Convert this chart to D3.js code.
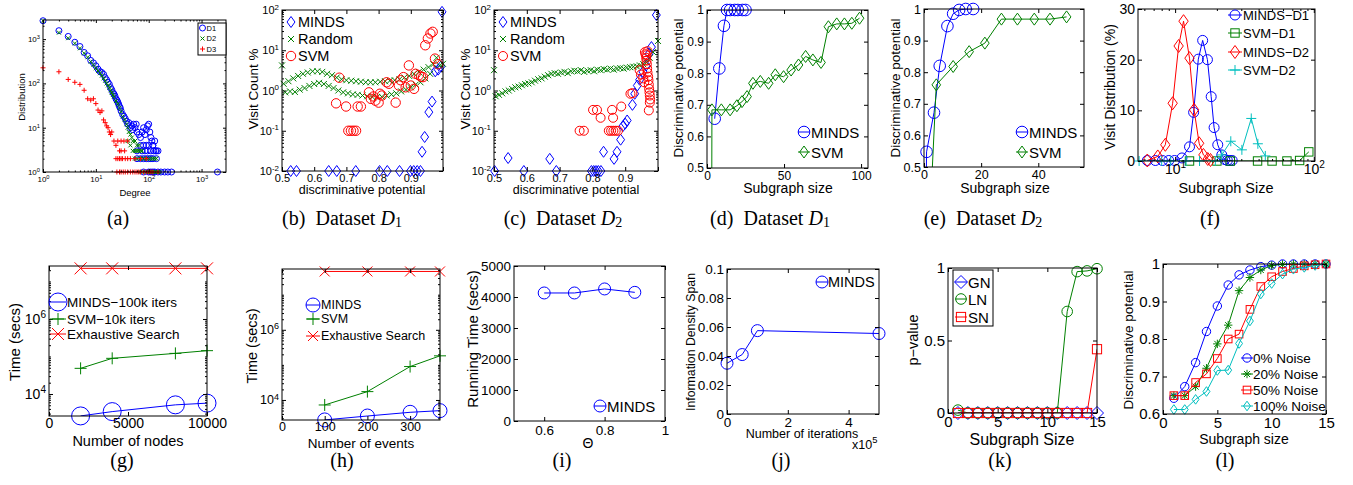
<!DOCTYPE html>
<html>
<head>
<meta charset="utf-8">
<script src="https://cdn.jsdelivr.net/npm/d3@7"></script>
<style>
  body { margin: 0; background: #fff; }
</style>
</head>
<body>
<svg id="fig" width="1353" height="485"></svg>
<script>
// ---- data ----
// (a) degree distribution, [degree, count]
var aD1 = [[1,2600],[2,1550],[3,1150],[4,850],[5,680],[6,500],[7,420],[8,330],[9,290],[10,250],
  [11,210],[12,185],[13,175],[14,160],[15,135],[16,120],[17,105],[18,95],[19,80],[20,72],
  [21,62],[22,58],[23,52],[24,45],[25,42],[26,38],[27,34],[28,30],[29,28],[30,24],
  [32,20],[34,18],[36,16],[38,14],[40,12],[42,13],[45,10],[48,11],[50,9],[52,12],
  [55,10],[58,12],[60,8],[65,7],[70,6],[75,8],[80,10],[85,7],[90,9],[95,11],
  [100,12],[105,8],[110,6],[115,5],[120,4],[130,5],[140,3],[150,3],
  [70,4],[80,4],[90,4],[100,4],[120,4],
  [60,3],[75,3],[85,3],[95,3],[110,3],[125,3],[135,3],
  [60,2],[70,2],[80,2],[90,2],[100,2],[110,2],[120,2],[140,2],
  [80,1],[100,1],[110,1],[120,1],[130,1],[150,1],[170,1],[200,1],[230,1],[270,1],[2000,1]];
var aD2 = [[1,2600],[2,1400],[3,1050],[4,800],[5,620],[6,480],[7,390],[8,310],[9,260],[10,220],
  [11,190],[12,170],[13,150],[14,130],[15,115],[16,100],[17,90],[18,80],[19,70],[20,62],
  [21,55],[22,50],[24,40],[26,34],[28,28],[30,23],[32,18],[35,15],[38,12],[40,10],
  [42,8],[45,7],[48,6],[50,5],[55,5],[60,4],[65,4],[70,3],[40,5],[45,4],[50,3],[55,3],
  [60,3],[65,3],[75,3],[55,2],[60,2],[70,2],[80,2],[90,2],[100,2],[110,2],[120,2],[130,2],[140,2],
  [70,1],[90,1],[100,1],[110,1],[120,1],[130,1],[140,1],[150,1],[160,1]];
var aD3 = [[1,225],[2,183],[3,123],[4,106],[5,95],[6,70],[7,45],[8,42],[9,45],[10,35],
  [11,25],[12,22],[13,24],[14,15],[15,13],[16,11],[17,10],[18,8],[19,7],[20,8],
  [22,5],[24,4],[26,5],[28,3],[30,5],[34,5],[40,5],[30,3],[35,3],
  [24,2],[26,2],[28,2],[30,2],[32,2],[36,2],[40,2],[45,2],[55,2],[70,2],[90,2],
  [25,1],[28,1],[30,1],[33,1],[36,1],[40,1],[45,1],[50,1],[55,1],[60,1],[65,1],[70,1],
  [80,1],[90,1],[100,1],[110,1],[120,1],[150,1]];

// (b) dataset D1 visit counts, [discriminative potential, visit %]
var bMinds = [[0.527,0.01],[0.545,0.01],[0.645,0.01],[0.67,0.01],[0.729,0.01],[0.803,0.01],[0.827,0.01],
  [0.865,0.01],[0.899,0.01],[0.909,0.01],[0.92,0.01],[0.93,0.01],[0.935,0.03],[0.943,0.07],
  [0.956,0.29],[0.966,0.53],[0.976,3.0],[0.985,3.3],[0.994,4.0],[0.997,90]];
var bRandom = [[0.5,4.2],
  [0.505,1.47],[0.52,1.7],[0.535,2.0],[0.55,2.3],[0.565,2.6],[0.58,2.8],[0.595,3.0],[0.61,3.0],
  [0.625,2.9],[0.64,2.6],[0.655,2.4],[0.67,2.1],[0.685,1.9],[0.7,1.8],[0.715,1.75],[0.73,1.7],
  [0.745,1.65],[0.76,1.6],[0.775,1.6],[0.79,1.6],[0.805,1.65],[0.82,1.7],[0.835,1.75],[0.85,1.8],
  [0.865,1.9],[0.88,2.1],[0.895,2.3],[0.91,2.6],[0.925,2.9],[0.94,3.3],[0.955,3.8],[0.97,4.5],
  [0.98,6.5],[0.99,4.2],[1.0,4.6],
  [0.51,0.9],[0.525,0.95],[0.54,0.92],[0.555,1.05],[0.57,1.15],[0.585,1.3],[0.6,1.45],[0.615,1.55],
  [0.63,1.45],[0.645,1.3],[0.66,1.15],[0.675,1.0],[0.69,0.9],[0.705,0.85],[0.72,0.8],[0.735,0.78],
  [0.75,0.75],[0.765,0.72],[0.78,0.7],[0.795,0.68],[0.81,0.7],[0.825,0.75],[0.84,0.8],[0.855,0.85],
  [0.87,0.95],[0.885,1.05],[0.9,1.2],[0.915,1.4],[0.93,1.6],[0.945,2.0],[0.96,2.6]];
var bSvm = [[0.678,2.08],[0.668,0.48],[0.699,0.4],[0.735,0.4],[0.745,0.4],[0.706,0.1],[0.714,0.1],
  [0.722,0.1],[0.73,0.1],[0.77,0.9],[0.776,0.62],[0.784,0.71],[0.79,0.56],[0.8,0.5],[0.804,0.83],
  [0.81,0.75],[0.825,1.6],[0.832,1.47],[0.853,0.5],[0.863,1.33],[0.868,1.8],[0.877,2.15],[0.884,1.2],
  [0.894,4.2],[0.9,1.33],[0.91,1.1],[0.915,2.6],[0.925,2.4],[0.932,2.2],[0.938,2.15],[0.945,13.3],
  [0.953,19.6],[0.961,26],[0.968,28.7],[0.975,6.2],[0.985,4.5]];

// (c) dataset D2 visit counts
var cMinds = [[0.502,0.01],[0.543,0.021],[0.591,0.01],[0.67,0.02],[0.69,0.01],[0.797,0.01],[0.804,0.01],
  [0.811,0.01],[0.818,0.01],[0.826,0.01],[0.834,0.03],[0.866,0.02],[0.875,0.03],[0.886,0.06],
  [0.893,0.13],[0.9,0.15],[0.906,0.18],[0.922,0.44],[0.929,0.83],[0.937,1.33],[0.944,1.85],
  [0.954,2.9],[0.964,4.2],[0.973,8.2],[0.98,12],[0.995,75]];
var cRandom = [[0.5,3.2],[0.505,0.72],[0.515,0.78],[0.525,0.85],[0.535,0.95],[0.545,1.0],[0.555,1.1],
  [0.565,1.2],[0.575,1.25],[0.585,1.35],[0.595,1.45],[0.605,1.5],[0.615,1.6],[0.625,1.75],[0.635,1.9],
  [0.645,2.0],[0.655,2.2],[0.665,2.4],[0.675,2.6],[0.685,2.7],[0.695,2.6],[0.705,2.8],[0.715,2.9],
  [0.725,2.7],[0.735,3.0],[0.745,3.1],[0.755,3.0],[0.765,3.2],[0.775,2.9],[0.785,3.1],[0.795,3.2],
  [0.805,3.0],[0.815,3.3],[0.825,3.2],[0.835,3.4],[0.845,3.3],[0.855,3.5],[0.865,3.3],[0.875,3.5],
  [0.885,3.6],[0.895,3.5],[0.905,3.7],[0.915,3.8],[0.925,3.9],[0.935,4.0],[0.945,4.2],[0.955,4.5],
  [0.965,5.0],[0.975,6.5],[0.985,9],[1.0,17]];
var cSvm = [[0.761,0.1],[0.774,0.1],[0.802,0.33],[0.814,0.33],[0.825,0.21],[0.85,0.1],[0.857,0.1],
  [0.864,0.1],[0.871,0.1],[0.878,0.1],[0.86,0.33],[0.863,0.21],[0.888,0.4],[0.916,0.83],[0.922,0.86],
  [0.944,3.2],[0.948,2.5],[0.955,2.0],[0.958,1.6],[0.96,9.0],[0.962,8.0],[0.964,6.5],[0.965,5.5],
  [0.966,4.5],[0.967,3.5],[0.968,2.8],[0.97,2.2],[0.971,1.8],[0.972,1.4],[0.973,1.1],[0.974,0.9],
  [0.975,0.75],[0.976,0.6],[0.975,0.5],[0.972,0.32],[0.965,7.5],[0.968,9.5]];

// (d) dataset D1, subgraph size vs discriminative potential
var dMindsX = [5, 8, 11, 13, 15, 18, 20, 23, 25];
var dMindsY = [0.656, 0.815, 0.95, 1, 1, 1, 1, 1, 1];
var dSvmX = [3, 3.2, 9.3, 15, 19.4, 22.7, 26, 29.8, 34.6, 40, 44.3, 49.7, 54.6, 59.4, 64, 68.7, 74, 78.8, 84.2, 89.2, 94, 99];
var dSvmY = [0.2, 0.684, 0.684, 0.684, 0.697, 0.71, 0.726, 0.768, 0.774, 0.768, 0.795, 0.789, 0.81, 0.826, 0.853, 0.842, 0.834, 0.947, 0.956, 0.956, 0.958, 0.974];

// (e) dataset D2
var eMindsX = [0.6, 0.9, 3.5, 5.5, 8.2, 10.2, 12.3, 14.6, 17.2];
var eMindsY = [0.3, 0.548, 0.672, 0.82, 0.946, 0.985, 0.997, 1, 1];
var eSvmX = [2.4, 4.3, 10.2, 15.8, 21.3, 27.1, 32.7, 38.6, 44.1, 49.9];
var eSvmY = [0.4, 0.76, 0.818, 0.865, 0.892, 0.968, 0.968, 0.968, 0.968, 0.975];

// (f) visit distribution over subgraph size
var fMindsD1X = [6.3, 7.2, 8.1, 9.0, 9.9, 11.2, 12.7, 13.6, 14.7, 15.8, 17.1, 18.2, 19.1, 20.3, 21.7, 22.8, 23.8, 24.8, 25.8];
var fMindsD1Y = [0.1, 0.1, 0.1, 0.1, 0.1, 0.6, 2.8, 9.6, 20.1, 23.8, 20.0, 12.7, 6.6, 3.2, 1.2, 0.3, 0.1, 0.1, 0.1];
var fSvmD1X = [12.7, 20, 25, 39.3, 50, 64, 79, 92];
var fSvmD1Y = [0, 0, 0, 0, 0, 0, 0.1, 1.8];
var fMindsD2X = [6.3, 7.5, 8.5, 9.6, 10.6, 11.5, 12.7, 13.7, 14.9, 16.0, 17.2, 18.0];
var fMindsD2Y = [0.1, 0.9, 3.2, 11.4, 22.7, 27.6, 20.3, 10.1, 3.5, 1.2, 0.4, 0.2];
var fSvmD2X = [5.5, 8, 9.3, 12, 15, 19.5, 21.7, 25.2, 30.3, 35.4, 39.5, 44.7];
var fSvmD2Y = [0, 0, 0, 0, 0, 0, 1.2, 3.9, 2.2, 8.4, 3.4, 1.0];

// (g) time vs number of nodes
var gNodes = [2000, 4000, 8000, 10000];
var gMinds = [2600, 3390, 5130, 5700];
var gSvm = [48300, 89300, 121000, 143000];
var gExh = [2.24e7, 2.24e7, 2.24e7, 2.24e7];

// (h) time vs number of events
var hEvents = [100, 200, 300, 370];
var hMinds = [2700, 3490, 4450, 4960];
var hSvm = [7200, 17300, 89600, 181000];
var hExh = [4.6e7, 4.6e7, 4.6e7, 4.6e7];

// (i) running time vs theta
var iTheta = [0.6, 0.7, 0.8, 0.9];
var iTime = [4130, 4130, 4260, 4150];

// (j) information density span vs iterations
var jIter = [0, 50000, 100000, 500000];
var jSpan = [0.035, 0.041, 0.0575, 0.0555];

// (k) p-value vs subgraph size
var kSize = [1, 2, 3, 4, 5, 6, 7, 8, 9, 10, 11, 12, 13, 14, 15];
var kGN = [0, 0, 0, 0, 0, 0, 0, 0, 0, 0, 0, 0, 0, 0, 0];
var kLN = [0.02, 0, 0, 0, 0, 0, 0, 0, 0, 0, 0, 0.7, 0.975, 0.98, 0.995];
var kSN = [0, 0, 0, 0, 0, 0, 0, 0, 0, 0, 0, 0, 0, 0, 0.44];

// (l) discriminative potential under noise
var lSize = [1, 2, 3, 4, 5, 6, 7, 8, 9, 10, 11, 12, 13, 14, 15];
var lNoise0 = [0.642, 0.673, 0.737, 0.82, 0.888, 0.944, 0.971, 0.984, 0.993, 0.997, 1, 1, 1, 1, 1];
var lNoise20 = [0.649, 0.649, 0.673, 0.722, 0.787, 0.837, 0.929, 0.964, 0.984, 0.996, 0.999, 1, 1, 1, 1];
var lNoise50 = [0.649, 0.649, 0.684, 0.707, 0.748, 0.8, 0.813, 0.879, 0.94, 0.966, 0.98, 0.988, 0.995, 0.998, 1];
var lNoise100 = [0.612, 0.612, 0.639, 0.66, 0.716, 0.717, 0.788, 0.848, 0.92, 0.948, 0.973, 0.986, 0.991, 0.996, 1];

// ---- drawing ----
var SANS = "'Liberation Sans', Arial, Helvetica, sans-serif";
var SERIF = "'Liberation Serif', 'Times New Roman', serif";
var BLUE = "#0000ff", GREEN = "#008000", RED = "#ff0000", CYAN = "#00bfbf";

var svg = d3.select("#fig");

function marker(g, m, cx, cy, r, c, w) {
  var el;
  var dw = w || 0.72;
  if (m === "o") el = g.append("circle").attr("cx", cx).attr("cy", cy).attr("r", r);
  else if (m === "s") el = g.append("rect").attr("x", cx - r).attr("y", cy - r).attr("width", 2 * r).attr("height", 2 * r);
  else if (m === "d") el = g.append("path").attr("d", "M" + cx + "," + (cy - r) + "L" + (cx + r * dw) + "," + cy + "L" + cx + "," + (cy + r) + "L" + (cx - r * dw) + "," + cy + "Z");
  else {
    var p = "";
    var k = m === "*" ? r * 0.72 : r;
    if (m === "x" || m === "*") p += "M" + (cx - k) + "," + (cy - k) + "L" + (cx + k) + "," + (cy + k) + "M" + (cx - k) + "," + (cy + k) + "L" + (cx + k) + "," + (cy - k);
    if (m === "+" || m === "*") p += "M" + (cx - r) + "," + cy + "L" + (cx + r) + "," + cy + "M" + cx + "," + (cy - r) + "L" + cx + "," + (cy + r);
    el = g.append("path").attr("d", p);
  }
  el.attr("fill", "none").attr("stroke", c).attr("stroke-width", 1);
}

function minorVals(d, major) {
  var out = [];
  for (var e = Math.floor(Math.log10(d[0])); e <= Math.ceil(Math.log10(d[1])); e++) {
    for (var k = 1; k < 10; k++) {
      var v = k * Math.pow(10, e);
      if (v >= d[0] && v <= d[1] && major.indexOf(v) < 0) out.push(v);
    }
  }
  return out;
}

function addAxis(g, axis, tx, ty, vals, fmt, size, pad, fs, log) {
  var a = g.append("g").attr("transform", "translate(" + tx + "," + ty + ")")
    .call(axis.tickValues(vals).tickSizeInner(-size).tickSizeOuter(0).tickPadding(pad)
      .tickFormat(fmt || function () { return ""; }));
  a.select(".domain").remove();
  a.attr("font-family", SANS).attr("font-size", fs);
  a.selectAll("line").attr("stroke", "#000");
  a.selectAll("text").attr("fill", "#000");
  if (log && fmt) {
    a.selectAll("text").each(function (d) {
      var t = d3.select(this);
      if (t.text() === "") return;
      t.text("10");
      t.append("tspan").attr("dy", "-0.55em").attr("font-size", "0.72em").text(Math.round(Math.log10(d)));
    });
  }
  return a;
}

function drawPanel(p) {
  var L = p.box[0], T = p.box[1], R = p.box[2], B = p.box[3];
  var x = (p.xlog ? d3.scaleLog() : d3.scaleLinear()).domain(p.xd).range([L, R]);
  var y = (p.ylog ? d3.scaleLog() : d3.scaleLinear()).domain(p.yd).range([B, T]);
  var g = svg.append("g");
  var cid = "clip-" + p.id;
  g.append("clipPath").attr("id", cid).append("rect")
    .attr("x", L).attr("y", T).attr("width", R - L).attr("height", B - T);

  var eps = 1e-9;
  p.series.forEach(function (s) {
    if (s.line) {
      g.append("path").datum(s.pts).attr("clip-path", "url(#" + cid + ")")
        .attr("fill", "none").attr("stroke", s.c).attr("stroke-width", 1)
        .attr("d", d3.line().x(function (d) { return x(d[0]); }).y(function (d) { return y(d[1]); }));
    }
    s.pts.forEach(function (d) {
      if (d[0] < p.xd[0] - eps || d[0] > p.xd[1] + eps || d[1] < p.yd[0] - eps || d[1] > p.yd[1] + eps) return;
      marker(g, s.m, x(d[0]), y(d[1]), s.r, s.c, s.w);
    });
  });

  var tk = p.tk || 4;
  addAxis(g, d3.axisBottom(x), 0, B, p.xt, p.xf, tk, p.xpad || 4, p.fs, p.xlog);
  addAxis(g, d3.axisTop(x), 0, T, p.xt, null, tk, 0, p.fs, false);
  addAxis(g, d3.axisLeft(y), L, 0, p.yt, p.yf, tk, p.ypad || 3, p.fs, p.ylog);
  addAxis(g, d3.axisRight(y), R, 0, p.yt, null, tk, 0, p.fs, false);
  if (p.xlog) {
    var mx = minorVals(p.xd, p.xt);
    addAxis(g, d3.axisBottom(x), 0, B, mx, null, tk / 2, 0, p.fs, false);
    addAxis(g, d3.axisTop(x), 0, T, mx, null, tk / 2, 0, p.fs, false);
  }
  if (p.ylog) {
    var my = minorVals(p.yd, p.yt);
    addAxis(g, d3.axisLeft(y), L, 0, my, null, tk / 2, 0, p.fs, false);
    addAxis(g, d3.axisRight(y), R, 0, my, null, tk / 2, 0, p.fs, false);
  }
  g.append("rect").attr("x", L).attr("y", T).attr("width", R - L).attr("height", B - T)
    .attr("fill", "none").attr("stroke", "#000").attr("stroke-width", 1);

  // axis labels
  g.append("text").attr("x", p.xl.x).attr("y", p.xl.y).attr("text-anchor", "middle")
    .attr("dominant-baseline", "central").attr("font-family", SANS).attr("font-size", p.xl.fs)
    .text(p.xl.t);
  g.append("text").attr("transform", "translate(" + p.yl.x + "," + p.yl.y + ") rotate(-90)")
    .attr("text-anchor", "middle").attr("dominant-baseline", "central")
    .attr("font-family", SANS).attr("font-size", p.yl.fs).text(p.yl.t);

  // legend
  var lg = p.leg;
  if (lg) {
    if (lg.box) {
      g.append("rect").attr("x", lg.box[0]).attr("y", lg.box[1])
        .attr("width", lg.box[2] - lg.box[0]).attr("height", lg.box[3] - lg.box[1])
        .attr("fill", "#fff").attr("stroke", "#000").attr("stroke-width", 1);
    }
    p.series.forEach(function (s, i) {
      var yy = lg.ys[i];
      if (s.line && lg.seg) {
        g.append("line").attr("x1", lg.mx - lg.seg).attr("x2", lg.mx + lg.seg)
          .attr("y1", yy).attr("y2", yy).attr("stroke", s.c).attr("stroke-width", 1);
      }
      marker(g, s.m, lg.mx, yy, s.r, s.c, s.w);
      g.append("text").attr("x", lg.tx).attr("y", yy).attr("dominant-baseline", "central")
        .attr("font-family", SANS).attr("font-size", lg.fs).text(s.name);
    });
  }
  return { x: x, y: y, g: g };
}

function caption(cx, cy, letter, sub) {
  var t = svg.append("text").attr("x", cx).attr("y", cy).attr("text-anchor", "middle")
    .attr("dominant-baseline", "central").attr("font-family", SERIF).attr("font-size", 20);
  t.append("tspan").text("(" + letter + ")");
  if (sub) {
    t.append("tspan").text("\u2002Dataset ");
    t.append("tspan").attr("font-style", "italic").text("D");
    t.append("tspan").attr("dy", "0.3em").attr("font-size", "0.7em").text(sub);
  }
}

var logFmt = function (d) { return "x"; };
var numFmt = function (d) { return String(d); };

// (a)
drawPanel({
  id: "a", box: [43, 20, 226, 172], xlog: true, xd: [1, 2900], ylog: true, yd: [1, 2700],
  xt: [1, 10, 100, 1000], yt: [1, 10, 100, 1000], xf: logFmt, yf: logFmt, fs: 8, tk: 3, xpad: 4, ypad: 3,
  series: [
    { name: "D1", pts: aD1, m: "o", r: 3, c: BLUE },
    { name: "D2", pts: aD2, m: "x", r: 2, c: GREEN },
    { name: "D3", pts: aD3, m: "+", r: 2.5, c: RED }
  ],
  xl: { t: "Degree", x: 135, y: 192, fs: 9.5 },
  yl: { t: "Distribution", x: 21, y: 97, fs: 9.5 },
  leg: { box: [198, 23, 226, 55], mx: 202.5, tx: 206.5, ys: [28, 38.5, 49], fs: 7.5, seg: 0 }
});

// (b)
var dpTicks = [0.5, 0.6, 0.7, 0.8, 0.9, 1.0];
var dpFmt = function (d) { return d < 0.95 ? d3.format(".1f")(d) : ""; };
drawPanel({
  id: "b", box: [282, 10, 443, 171], xd: [0.5, 1.0], ylog: true, yd: [0.01, 100],
  xt: dpTicks, yt: [0.01, 0.1, 1, 10, 100], xf: dpFmt, yf: logFmt, fs: 11, tk: 4, xpad: 3, ypad: 3,
  series: [
    { name: "MINDS", pts: bMinds, m: "d", r: 5.5, c: BLUE },
    { name: "Random", pts: bRandom, m: "x", r: 3, c: GREEN },
    { name: "SVM", pts: bSvm, m: "o", r: 4.7, c: RED }
  ],
  xl: { t: "discriminative potential", x: 362, y: 190, fs: 12.5 },
  yl: { t: "Visit Count %", x: 253, y: 89, fs: 13.5 },
  leg: { mx: 291, tx: 298, ys: [22, 39, 56], fs: 14.5, seg: 0 }
});

// (c)
drawPanel({
  id: "c", box: [494, 10, 658, 171], xd: [0.5, 1.0], ylog: true, yd: [0.01, 100],
  xt: dpTicks, yt: [0.01, 0.1, 1, 10, 100], xf: dpFmt, yf: logFmt, fs: 11, tk: 4, xpad: 3, ypad: 3,
  series: [
    { name: "MINDS", pts: cMinds, m: "d", r: 5.5, c: BLUE },
    { name: "Random", pts: cRandom, m: "x", r: 3, c: GREEN },
    { name: "SVM", pts: cSvm, m: "o", r: 4.5, c: RED }
  ],
  xl: { t: "discriminative potential", x: 576, y: 190, fs: 12.5 },
  yl: { t: "Visit Count %", x: 465, y: 89, fs: 13.5 },
  leg: { mx: 503, tx: 510, ys: [22, 39, 56], fs: 14.5, seg: 0 }
});

// (d)
var potTicks = [0.5, 0.6, 0.7, 0.8, 0.9, 1];
drawPanel({
  id: "d", box: [707, 10, 868, 168], xd: [0, 104.5], yd: [0.5, 1],
  xt: [0, 50, 100], yt: potTicks, xf: numFmt, yf: numFmt, fs: 12, tk: 4, xpad: 3, ypad: 3,
  series: [
    { name: "MINDS", pts: d3.zip(dMindsX, dMindsY), m: "o", r: 5.8, c: BLUE, line: true },
    { name: "SVM", pts: d3.zip(dSvmX, dSvmY), m: "d", r: 6, c: GREEN, line: true }
  ],
  xl: { t: "Subgraph size", x: 788, y: 188, fs: 14 },
  yl: { t: "Discriminative potential", x: 678, y: 88, fs: 13.5 },
  leg: { mx: 804, tx: 811, ys: [132, 152], fs: 15, seg: 6 }
});

// (e)
drawPanel({
  id: "e", box: [924, 9, 1084, 167], xd: [0, 56], yd: [0.5, 1],
  xt: [0, 20, 40], yt: potTicks, xf: numFmt, yf: numFmt, fs: 12.5, tk: 4, xpad: 3, ypad: 3,
  series: [
    { name: "MINDS", pts: d3.zip(eMindsX, eMindsY), m: "o", r: 5.8, c: BLUE, line: true },
    { name: "SVM", pts: d3.zip(eSvmX, eSvmY), m: "d", r: 6, c: GREEN, line: true }
  ],
  xl: { t: "Subgraph size", x: 1005, y: 188, fs: 14 },
  yl: { t: "Discriminative potential", x: 895, y: 88, fs: 13.5 },
  leg: { mx: 1022, tx: 1029, ys: [132, 152], fs: 15, seg: 6 }
});

// (f)
drawPanel({
  id: "f", box: [1138, 9, 1315, 161], xlog: true, xd: [5.4, 102], yd: [0, 30],
  xt: [10, 100], yt: [0, 10, 20, 30], xf: logFmt, yf: numFmt, fs: 14, tk: 4, xpad: 3, ypad: 3,
  series: [
    { name: "MINDS\u2212D1", pts: d3.zip(fMindsD1X, fMindsD1Y), m: "o", r: 5, c: BLUE, line: true },
    { name: "SVM\u2212D1", pts: d3.zip(fSvmD1X, fSvmD1Y), m: "s", r: 4.2, c: GREEN, line: true },
    { name: "MINDS\u2212D2", pts: d3.zip(fMindsD2X, fMindsD2Y), m: "d", r: 6.5, c: RED, line: true },
    { name: "SVM\u2212D2", pts: d3.zip(fSvmD2X, fSvmD2Y), m: "+", r: 5, c: CYAN, line: true }
  ],
  xl: { t: "Subgraph Size", x: 1226, y: 188, fs: 14.5 },
  yl: { t: "Visit Distribution (%)", x: 1110, y: 87, fs: 14 },
  leg: { mx: 1235, tx: 1243, ys: [15, 33, 52, 70], fs: 13, seg: 7 }
});

// (g)
drawPanel({
  id: "g", box: [49, 266, 207, 416], xd: [0, 10000], ylog: true, yd: [Math.pow(10, 3.413), Math.pow(10, 7.413)],
  xt: [0, 5000, 10000], yt: [1e4, 1e6], xf: numFmt, yf: logFmt, fs: 14, tk: 4, xpad: 2, ypad: 3,
  series: [
    { name: "MINDS\u2212100k iters", pts: d3.zip(gNodes, gMinds), m: "o", r: 9, c: BLUE, line: true },
    { name: "SVM\u221210k iters", pts: d3.zip(gNodes, gSvm), m: "+", r: 6, c: GREEN, line: true },
    { name: "Exhaustive Search", pts: d3.zip(gNodes, gExh), m: "x", r: 6, c: RED, line: true }
  ],
  xl: { t: "Number of nodes", x: 128, y: 441, fs: 14.5 },
  yl: { t: "Time (secs)", x: 14, y: 342, fs: 15 },
  leg: { mx: 58, tx: 67, ys: [302, 319, 334], fs: 13.5, seg: 8 }
});

// (h)
drawPanel({
  id: "h", box: [282, 269, 440, 420], xd: [0, 370], ylog: true, yd: [Math.pow(10, 3.429), Math.pow(10, 7.733)],
  xt: [0, 100, 200, 300], yt: [1e4, 1e6], xf: numFmt, yf: logFmt, fs: 12.5, tk: 4, xpad: 2, ypad: 3,
  series: [
    { name: "MINDS", pts: d3.zip(hEvents, hMinds), m: "o", r: 7, c: BLUE, line: true },
    { name: "SVM", pts: d3.zip(hEvents, hSvm), m: "+", r: 6, c: GREEN, line: true },
    { name: "Exhaustive Search", pts: d3.zip(hEvents, hExh), m: "x", r: 5, c: RED, line: true }
  ],
  xl: { t: "Number of events", x: 361, y: 443, fs: 13.5 },
  yl: { t: "Time (secs)", x: 252, y: 346, fs: 14.5 },
  leg: { mx: 313, tx: 321, ys: [305, 319, 336], fs: 12.5, seg: 7 }
});

// (i)
drawPanel({
  id: "i", box: [514, 266, 665, 421], xd: [0.5, 1], yd: [0, 5000],
  xt: [0.6, 0.8, 1], yt: [0, 1000, 2000, 3000, 4000, 5000], xf: numFmt, yf: numFmt, fs: 13.5, tk: 4, xpad: 4, ypad: 3,
  series: [
    { name: "MINDS", pts: d3.zip(iTheta, iTime), m: "o", r: 6, c: BLUE, line: true }
  ],
  xl: { t: "\u0398", x: 588, y: 443, fs: 14 },
  yl: { t: "Running Time (secs)", x: 472, y: 339, fs: 15 },
  leg: { mx: 600, tx: 607, ys: [406], fs: 15, seg: 6 }
});

// (j)
var pj = drawPanel({
  id: "j", box: [727, 269, 879, 414], xd: [0, 500000], yd: [0, 0.1],
  xt: [0, 200000, 400000], yt: [0, 0.02, 0.04, 0.06, 0.08, 0.1],
  xf: function (d) { return String(d / 1e5); }, yf: numFmt, fs: 13.5, tk: 4, xpad: 3, ypad: 3,
  series: [
    { name: "MINDS", pts: d3.zip(jIter, jSpan), m: "o", r: 6, c: BLUE, line: true }
  ],
  xl: { t: "Number of iterations", x: 802, y: 434, fs: 12.5 },
  yl: { t: "Information Density Span", x: 691, y: 342, fs: 12.3 },
  leg: { mx: 822, tx: 828, ys: [282], fs: 14.5, seg: 6 }
});
var mult = pj.g.append("text").attr("x", 852).attr("y", 445).attr("font-family", SANS)
  .attr("font-size", 12.5).attr("dominant-baseline", "central").text("x10");
mult.append("tspan").attr("dy", "-0.5em").attr("font-size", "0.75em").text("5");

// (k)
drawPanel({
  id: "k", box: [948, 268, 1097, 413], xd: [0, 15], yd: [0, 1],
  xt: [0, 5, 10, 15], yt: [0, 0.5, 1], xf: numFmt, yf: numFmt, fs: 15, tk: 4, xpad: 3, ypad: 3,
  series: [
    { name: "GN", pts: d3.zip(kSize, kGN), m: "d", r: 6.5, w: 1, c: BLUE, line: true },
    { name: "LN", pts: d3.zip(kSize, kLN), m: "o", r: 5.3, c: GREEN, line: true },
    { name: "SN", pts: d3.zip(kSize, kSN), m: "s", r: 4.6, c: RED, line: true }
  ],
  xl: { t: "Subgraph Size", x: 1022, y: 439, fs: 16 },
  yl: { t: "p\u2212value", x: 913, y: 340, fs: 14.5 },
  leg: { box: [953, 270, 993, 326], mx: 961, tx: 968, ys: [282, 299, 317], fs: 15, seg: 6 }
});

// (l)
drawPanel({
  id: "l", box: [1163, 264, 1326, 414], xd: [0, 15], yd: [0.6, 1],
  xt: [0, 5, 10, 15], yt: [0.6, 0.7, 0.8, 0.9, 1], xf: numFmt, yf: numFmt, fs: 15, tk: 4, xpad: 3, ypad: 3,
  series: [
    { name: "0% Noise", pts: d3.zip(lSize, lNoise0), m: "o", r: 4.2, c: BLUE, line: true },
    { name: "20% Noise", pts: d3.zip(lSize, lNoise20), m: "*", r: 4.2, c: GREEN, line: true },
    { name: "50% Noise", pts: d3.zip(lSize, lNoise50), m: "s", r: 3.8, c: RED, line: true },
    { name: "100% Noise", pts: d3.zip(lSize, lNoise100), m: "d", r: 4.8, c: CYAN, line: true }
  ],
  xl: { t: "Subgraph size", x: 1244, y: 439, fs: 14 },
  yl: { t: "Discriminative potential", x: 1128, y: 340, fs: 13.5 },
  leg: { mx: 1247, tx: 1253, ys: [358, 374, 390, 406], fs: 13.5, seg: 6 }
});

// captions
caption(118, 218, "a");
caption(342, 218, "b", "1");
caption(563, 218, "c", "2");
caption(770, 218, "d", "1");
caption(983, 218, "e", "2");
caption(1210, 218, "f");
caption(122, 460, "g");
caption(342, 460, "h");
caption(562, 460, "i");
caption(781, 460, "j");
caption(1000, 460, "k");
caption(1225, 460, "l");
</script>
</body>
</html>
